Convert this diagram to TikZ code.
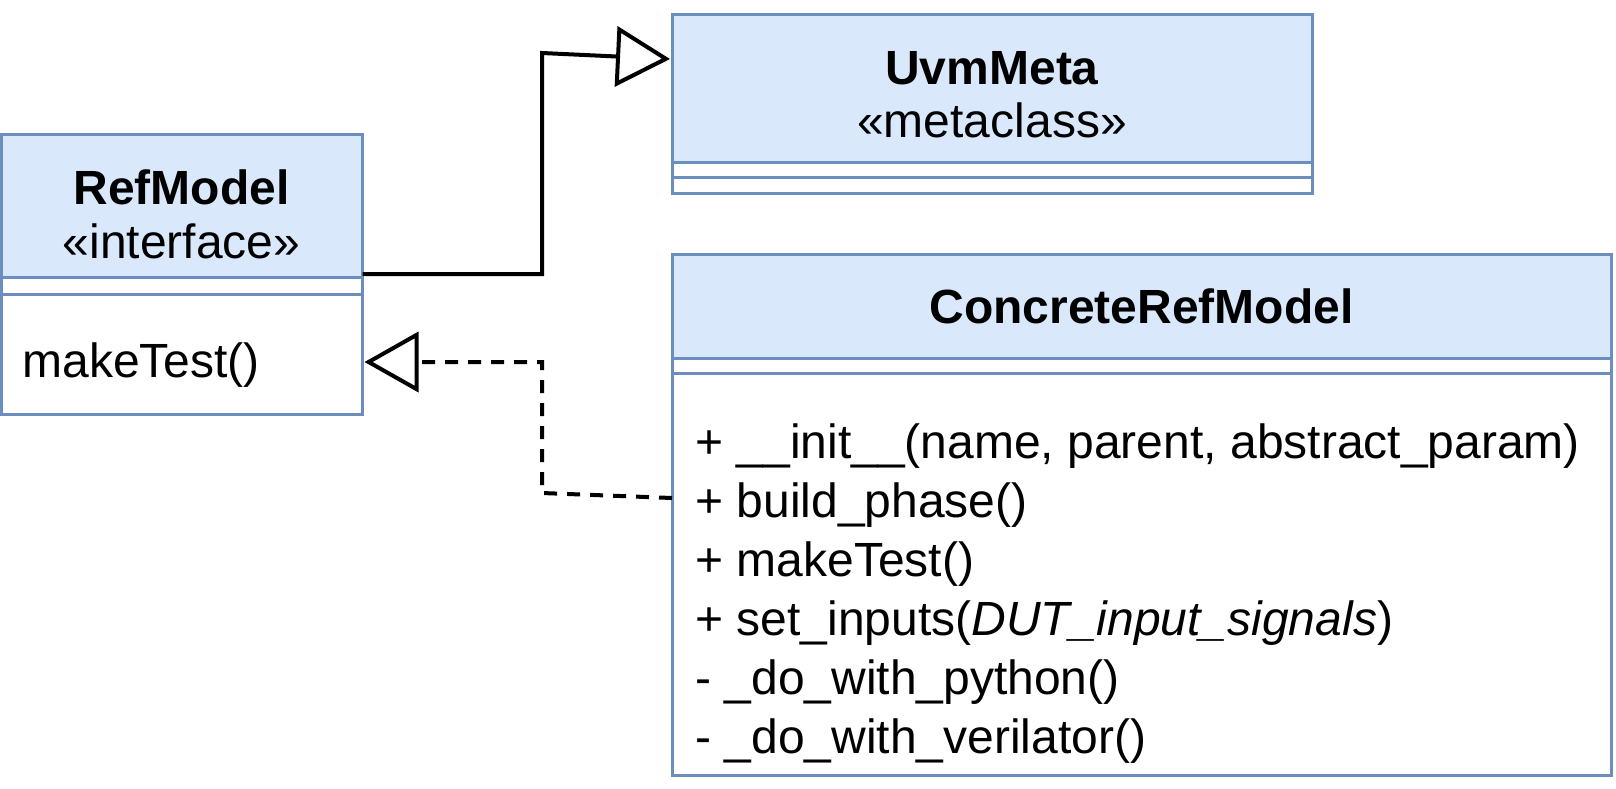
\documentclass[tikz,border=0pt]{standalone}
\usepackage{fontspec}
\setmainfont{Liberation Sans}
\usetikzlibrary{arrows.meta}
\definecolor{umlborder}{HTML}{6C8EBF}
\definecolor{umlfill}{HTML}{DAE8FC}

\tikzset{
    classbox/.style={draw=umlborder, line width=1.5pt, inner sep=0pt, outer sep=0pt, anchor=north west},
    headbox/.style={classbox, fill=umlfill},
    classname/.style={font=\bfseries\fontsize{24}{28}\selectfont, inner sep=0pt, anchor=base},
    stereotype/.style={font=\fontsize{24}{28}\selectfont, inner sep=0pt, anchor=base},
    member/.style={font=\fontsize{24}{28}\selectfont, inner sep=0pt, anchor=base west},
    generalize/.style={line width=2pt, -{Triangle[open, length=27pt, width=30pt]}},
    realize/.style={generalize, dash pattern=on 6.5pt off 5pt},
}

\begin{document}
\begin{tikzpicture}[x=0.5pt, y=-0.5pt]
    \useasboundingbox (0,0) rectangle (1616,788);

    % RefModel (interface) - left
    \node[headbox, minimum width=180.5pt, minimum height=71.5pt] (refhead) at (1.5,134) {};
    \node[classbox, minimum width=180.5pt, minimum height=8.5pt] (reffields) at (refhead.south west) {};
    \node[classbox, minimum width=180.5pt, minimum height=60pt] (refmethods) at (reffields.south west) {};
    \node[classname] (refname) at (181.5,204) {RefModel};
    \node[stereotype] (refstereo) at (181.5,258) {«interface»};
    \node[member] (refmake) at (22,377) {makeTest()};

    % UvmMeta (metaclass) - top right
    \node[headbox, minimum width=320pt, minimum height=74pt] (uvmhead) at (672,14) {};
    \node[classbox, minimum width=320pt, minimum height=7.5pt] (uvmfields) at (uvmhead.south west) {};
    \node[classbox, minimum width=320pt, minimum height=8pt] (uvmmethods) at (uvmfields.south west) {};
    \node[classname] (uvmname) at (992,84) {UvmMeta};
    \node[stereotype] (uvmstereo) at (992,137) {«metaclass»};

    % ConcreteRefModel - bottom right
    \node[headbox, minimum width=469.5pt, minimum height=52pt] (conhead) at (672,254) {};
    \node[classbox, minimum width=469.5pt, minimum height=7.5pt] (confields) at (conhead.south west) {};
    \node[classbox, minimum width=469.5pt, minimum height=201pt] (conmethods) at (confields.south west) {};
    \node[classname] (conname) at (1141.5,323) {ConcreteRefModel};
    \node[member] (coninit) at (695,458) {+ \_\_init\_\_(name, parent, abstract\_param)};
    \node[member] (conbuild) at (695,517) {+ build\_phase()};
    \node[member] (conmake) at (695,576) {+ makeTest()};
    \node[member] (coninputs) at (695,635) {+ set\_inputs(\textit{DUT\_input\_signals})};
    \node[member] (conpython) at (695,694) {- \_do\_with\_python()};
    \node[member] (converilator) at (695,753) {- \_do\_with\_verilator()};

    % Connectors
    \coordinate (uvmin) at (670,59);
    \coordinate (conout) at (672,498);
    \draw[generalize] ([yshift=1.5pt]refhead.south east) -| (542,53) -- (uvmin);
    \draw[realize] (conout) -- (542,493) |- ([xshift=1pt, yshift=-34pt]refmethods.north east);
\end{tikzpicture}
\end{document}
